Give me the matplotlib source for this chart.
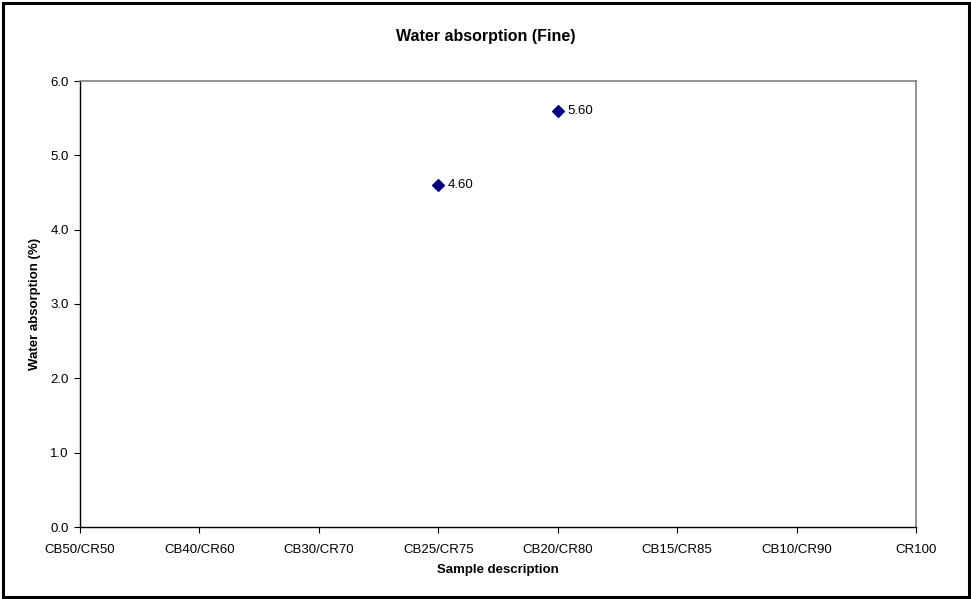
import matplotlib.pyplot as plt
from matplotlib.patches import Rectangle

plt.rcParams['font.family'] = ['Liberation Sans', 'DejaVu Sans']

samples = ['CB50/CR50', 'CB40/CR60', 'CB30/CR70', 'CB25/CR75',
           'CB20/CR80', 'CB15/CR85', 'CB10/CR90', 'CR100']
measured = ['CB25/CR75', 'CB20/CR80']
absorption = [4.60, 5.60]
y_ticks = [0.0, 1.0, 2.0, 3.0, 4.0, 5.0, 6.0]

fig = plt.figure(figsize=(9.71, 5.99), dpi=100)
ax = fig.add_axes([80 / 971, 1 - 527 / 599, 836 / 971, 446 / 599])

xs = [samples.index(s) for s in measured]
ax.scatter(xs, absorption, marker='D', s=36, color='#000080', zorder=3, clip_on=False)
for x, v in zip(xs, absorption):
    ax.annotate(f'{v:.2f}', (x, v), xytext=(7, 0), textcoords='offset points',
                va='center', ha='left', fontsize=9.5)

ax.set_xlim(0, len(samples) - 1)
ax.set_ylim(y_ticks[0], y_ticks[-1])
ax.set_xticks(range(len(samples)))
ax.set_xticklabels(samples, fontsize=9.5)
ax.set_yticks(y_ticks)
ax.set_yticklabels([f'{t:.1f}' for t in y_ticks], fontsize=9.5)
ax.tick_params(direction='out', length=4, width=0.8, color='black')
ax.tick_params(axis='x', pad=8)
ax.tick_params(axis='y', pad=4)

for side in ('top', 'right'):
    ax.spines[side].set_color('#808080')
    ax.spines[side].set_linewidth(1.2)
for side in ('left', 'bottom'):
    ax.spines[side].set_color('black')
    ax.spines[side].set_linewidth(1.0)

ax.set_xlabel('Sample description', fontsize=9.5, fontweight='bold', labelpad=6)
ax.set_ylabel('Water absorption (%)', fontsize=9.5, fontweight='bold', labelpad=7)
fig.text(0.5, 1 - 37 / 599, 'Water absorption (Fine)', ha='center', va='center',
         fontsize=11.5, fontweight='bold')

# chart frame
fig.patches.append(Rectangle((2.5 / 971, 2.5 / 599), 966 / 971, 594 / 599,
                             transform=fig.transFigure, fill=False,
                             edgecolor='black', linewidth=2.2))

fig.savefig('out.png', dpi=100)
